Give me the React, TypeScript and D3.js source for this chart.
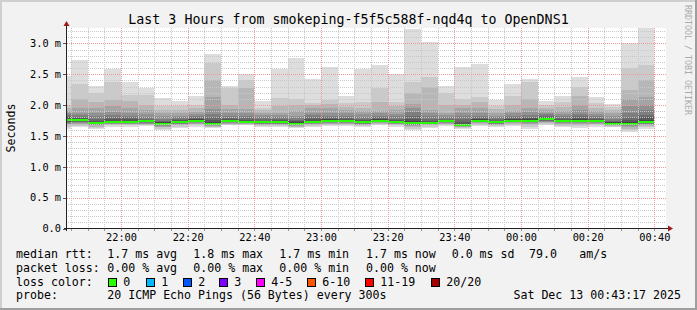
import React from "react";
import * as d3 from "d3";

const W = 697;
const H = 310;

const title = "Last 3 Hours from smokeping-f5f5c588f-nqd4q to OpenDNS1";
const yTickValues = [0, 0.5, 1.0, 1.5, 2.0, 2.5, 3.0];
const yTickLabels = ["0.0", "0.5 m", "1.0 m", "1.5 m", "2.0 m", "2.5 m", "3.0 m"];
const startTime = new Date(2025, 11, 12, 21, 43, 30);
const endTime = new Date(2025, 11, 13, 0, 43, 30);
const firstBarStart = new Date(2025, 11, 12, 21, 40, 0);
const stepMinutes = 5;
const yMax = 3.25;

// median rtt (ms) per 5-minute step
const medians = [
  1.76, 1.755, 1.715, 1.73, 1.73, 1.735, 1.7, 1.73, 1.75, 1.7,
  1.74, 1.725, 1.72, 1.72, 1.7, 1.73, 1.75, 1.74, 1.72, 1.75,
  1.72, 1.71, 1.71, 1.735, 1.675, 1.75, 1.72, 1.75, 1.75, 1.77,
  1.74, 1.75, 1.74, 1.7, 1.7, 1.73,
];

// 20 sorted ping rtts (ms) per 5-minute step
const pings = [
  [1.62, 1.65, 1.67, 1.69, 1.7, 1.71, 1.72, 1.73, 1.74, 1.75, 1.77, 1.78, 1.8, 1.82, 1.85, 1.88, 1.9, 1.95, 2.0, 2.47],
  [1.64, 1.66, 1.68, 1.7, 1.71, 1.72, 1.73, 1.74, 1.745, 1.75, 1.76, 1.77, 1.79, 1.81, 1.84, 1.88, 1.95, 2.1, 2.35, 2.73],
  [1.61, 1.63, 1.65, 1.67, 1.68, 1.69, 1.7, 1.705, 1.71, 1.715, 1.72, 1.73, 1.75, 1.78, 1.82, 1.87, 1.95, 2.05, 2.2, 2.31],
  [1.65, 1.67, 1.68, 1.69, 1.7, 1.71, 1.72, 1.725, 1.73, 1.73, 1.74, 1.75, 1.77, 1.8, 1.84, 1.89, 1.98, 2.08, 2.37, 2.59],
  [1.65, 1.67, 1.68, 1.69, 1.7, 1.71, 1.72, 1.725, 1.73, 1.73, 1.74, 1.75, 1.77, 1.8, 1.83, 1.87, 1.95, 2.07, 2.16, 2.37],
  [1.66, 1.67, 1.68, 1.69, 1.7, 1.71, 1.72, 1.73, 1.735, 1.735, 1.74, 1.75, 1.76, 1.78, 1.81, 1.85, 1.92, 2.0, 2.16, 2.27],
  [1.6, 1.62, 1.64, 1.65, 1.66, 1.67, 1.68, 1.69, 1.695, 1.7, 1.71, 1.72, 1.73, 1.75, 1.78, 1.82, 1.87, 1.92, 1.98, 2.12],
  [1.63, 1.65, 1.67, 1.68, 1.69, 1.7, 1.71, 1.72, 1.725, 1.73, 1.74, 1.75, 1.76, 1.78, 1.8, 1.83, 1.87, 1.92, 1.98, 2.065],
  [1.65, 1.67, 1.69, 1.7, 1.71, 1.72, 1.73, 1.74, 1.745, 1.75, 1.76, 1.77, 1.78, 1.8, 1.83, 1.86, 1.89, 1.95, 2.0, 2.15],
  [1.63, 1.64, 1.65, 1.66, 1.67, 1.68, 1.69, 1.695, 1.7, 1.7, 1.71, 1.73, 1.76, 1.8, 1.86, 1.94, 2.135, 2.4, 2.68, 2.826],
  [1.67, 1.68, 1.69, 1.7, 1.71, 1.72, 1.73, 1.735, 1.74, 1.74, 1.75, 1.76, 1.77, 1.79, 1.82, 1.87, 1.93, 2.0, 2.27, 2.31],
  [1.67, 1.68, 1.69, 1.7, 1.705, 1.71, 1.715, 1.72, 1.72, 1.725, 1.73, 1.74, 1.76, 1.79, 1.83, 1.88, 1.94, 2.27, 2.4, 2.51],
  [1.64, 1.66, 1.67, 1.68, 1.69, 1.7, 1.705, 1.71, 1.715, 1.72, 1.73, 1.74, 1.75, 1.77, 1.8, 1.84, 1.88, 1.92, 1.95, 2.07],
  [1.64, 1.66, 1.67, 1.68, 1.69, 1.7, 1.705, 1.71, 1.715, 1.72, 1.73, 1.74, 1.76, 1.78, 1.81, 1.84, 1.87, 1.98, 2.11, 2.58],
  [1.63, 1.64, 1.65, 1.66, 1.67, 1.68, 1.69, 1.695, 1.7, 1.7, 1.71, 1.72, 1.74, 1.76, 1.79, 1.83, 1.9, 2.0, 2.1, 2.77],
  [1.64, 1.66, 1.68, 1.69, 1.7, 1.71, 1.72, 1.725, 1.73, 1.73, 1.74, 1.75, 1.77, 1.8, 1.84, 1.88, 1.95, 2.0, 2.04, 2.42],
  [1.66, 1.68, 1.69, 1.7, 1.71, 1.72, 1.73, 1.74, 1.745, 1.75, 1.76, 1.77, 1.78, 1.8, 1.83, 1.88, 1.95, 2.02, 2.08, 2.62],
  [1.66, 1.68, 1.69, 1.7, 1.71, 1.72, 1.73, 1.735, 1.74, 1.74, 1.75, 1.76, 1.77, 1.79, 1.82, 1.87, 1.92, 1.97, 2.03, 2.145],
  [1.64, 1.66, 1.67, 1.68, 1.69, 1.7, 1.705, 1.71, 1.715, 1.72, 1.73, 1.74, 1.76, 1.78, 1.81, 1.85, 1.9, 1.96, 2.05, 2.58],
  [1.67, 1.69, 1.7, 1.71, 1.72, 1.73, 1.74, 1.745, 1.75, 1.75, 1.76, 1.77, 1.78, 1.8, 1.83, 1.87, 1.9, 2.05, 2.27, 2.65],
  [1.65, 1.67, 1.68, 1.69, 1.7, 1.705, 1.71, 1.715, 1.72, 1.72, 1.73, 1.74, 1.76, 1.78, 1.82, 1.86, 1.92, 1.98, 2.05, 2.5],
  [1.6, 1.62, 1.64, 1.66, 1.67, 1.68, 1.69, 1.7, 1.705, 1.71, 1.72, 1.74, 1.77, 1.82, 1.89, 1.95, 2.02, 2.2, 2.38, 3.24],
  [1.63, 1.65, 1.67, 1.68, 1.69, 1.7, 1.7, 1.705, 1.71, 1.71, 1.72, 1.73, 1.75, 1.78, 1.82, 1.87, 1.92, 2.3, 2.45, 3.02],
  [1.66, 1.68, 1.69, 1.7, 1.71, 1.72, 1.725, 1.73, 1.735, 1.735, 1.74, 1.75, 1.76, 1.78, 1.81, 1.84, 1.87, 2.0, 2.2, 2.31],
  [1.62, 1.63, 1.64, 1.65, 1.655, 1.66, 1.665, 1.67, 1.67, 1.675, 1.68, 1.7, 1.73, 1.77, 1.82, 1.88, 1.95, 2.0, 2.1, 2.61],
  [1.66, 1.68, 1.7, 1.71, 1.72, 1.73, 1.74, 1.745, 1.75, 1.75, 1.76, 1.77, 1.78, 1.8, 1.83, 1.87, 1.95, 2.05, 2.13, 2.665],
  [1.64, 1.66, 1.67, 1.68, 1.69, 1.7, 1.705, 1.71, 1.715, 1.72, 1.73, 1.74, 1.75, 1.77, 1.8, 1.83, 1.87, 1.93, 1.98, 2.08],
  [1.66, 1.68, 1.7, 1.71, 1.72, 1.73, 1.74, 1.745, 1.75, 1.75, 1.76, 1.77, 1.78, 1.8, 1.83, 1.87, 1.9, 2.0, 2.15, 2.35],
  [1.62, 1.65, 1.68, 1.7, 1.71, 1.72, 1.73, 1.74, 1.745, 1.75, 1.76, 1.77, 1.79, 1.81, 1.84, 1.89, 1.95, 2.1, 2.37, 2.43],
  [1.67, 1.69, 1.71, 1.72, 1.73, 1.74, 1.75, 1.76, 1.765, 1.77, 1.78, 1.79, 1.8, 1.82, 1.85, 1.88, 1.92, 1.95, 2.0, 2.07],
  [1.64, 1.66, 1.68, 1.7, 1.71, 1.72, 1.725, 1.73, 1.735, 1.74, 1.75, 1.76, 1.77, 1.79, 1.82, 1.86, 1.9, 1.97, 2.05, 2.145],
  [1.63, 1.66, 1.68, 1.7, 1.71, 1.72, 1.73, 1.74, 1.745, 1.75, 1.76, 1.77, 1.79, 1.82, 1.86, 1.92, 2.0, 2.15, 2.3, 2.45],
  [1.65, 1.67, 1.69, 1.7, 1.71, 1.72, 1.73, 1.735, 1.74, 1.74, 1.75, 1.76, 1.77, 1.79, 1.82, 1.86, 1.9, 1.96, 2.03, 2.135],
  [1.64, 1.65, 1.66, 1.67, 1.68, 1.685, 1.69, 1.695, 1.7, 1.7, 1.71, 1.72, 1.73, 1.75, 1.78, 1.82, 1.87, 1.92, 1.97, 2.02],
  [1.57, 1.6, 1.62, 1.64, 1.66, 1.67, 1.68, 1.69, 1.695, 1.7, 1.71, 1.73, 1.76, 1.8, 1.88, 1.98, 2.1, 2.24, 2.6, 3.0],
  [1.62, 1.64, 1.66, 1.68, 1.69, 1.7, 1.71, 1.72, 1.725, 1.73, 1.74, 1.76, 1.8, 1.84, 1.92, 2.0, 2.13, 2.4, 2.65, 3.25],
];

const lossLabels = ["0", "1", "2", "3", "4-5", "6-10", "11-19", "20/20"];
const lossColors = ["#26ff00", "#00b8ff", "#0059ff", "#7e00ff", "#ff00ff", "#ff5500", "#ff0000", "#a00000"];
const lossBoxX = [108, 146, 183, 219, 256, 307, 365, 431];

const rttRow = ["median rtt:", "1.7 ms avg", "1.8 ms max", "1.7 ms min", "1.7 ms now", "0.0 ms sd", "79.0", "am/s"];
const rttRowX = [16, 107.3, 193.3, 279.3, 366, 451.7, 529, 579.3];
const lossRow = ["packet loss:", "0.00 % avg", "0.00 % max", "0.00 % min", "0.00 % now"];
const lossRowX = [16, 107.3, 193.3, 279.3, 366];
const probeLabel = "probe:";
const probeText = "20 ICMP Echo Pings (56 Bytes) every 300s";
const dateText = "Sat Dec 13 00:43:17 2025";
const watermark = "RRDTOOL / TOBI OETIKER";

const MONO = "'DejaVu Sans Mono', monospace";

export default function App() {
  const left = 66;
  const right = 666;
  const x = d3.scaleTime().domain([startTime, endTime]).range([left, right]);
  const y = d3.scaleLinear().domain([0, yMax]).range([228.5, 28]);
  const plotTop = 28;
  const plotBottom = 228.5;

  const minorY = d3.range(0, 3.25, 0.1).map((v) => Math.round(v * 10) / 10);
  const minorX = x.ticks(d3.timeMinute.every(5) as any);
  const majorX = x.ticks(d3.timeMinute.every(20) as any);
  const fmt = d3.timeFormat("%H:%M");

  const grays = d3.range(1, 11).map((k) => {
    const c = Math.floor((190 / 10) * (10 - k)) + 50;
    return `rgb(${c},${c},${c})`;
  });

  const bars = pings.map((p, i) => {
    const t0 = d3.timeMinute.offset(firstBarStart, i * stepMinutes);
    const t1 = d3.timeMinute.offset(firstBarStart, (i + 1) * stepMinutes);
    const x0 = Math.max(left, Math.round(x(t0)));
    const x1 = Math.round(x(t1));
    return { p, x0, x1, med: medians[i] };
  });

  const isMajorY = (v: number) => Math.abs(v * 2 - Math.round(v * 2)) < 1e-6;
  const isMajorX = (t: Date) => t.getMinutes() % 20 === 0;

  return (
    <svg
      width={W}
      height={H}
      viewBox={`0 0 ${W} ${H}`}
      style={{ position: "absolute", left: 0, top: 0, display: "block" }}
      fontFamily={MONO}
    >
      <rect x={0} y={0} width={W} height={H} fill="#f2f2f2" />
      {/* 3D frame */}
      <rect x={0} y={0} width={W} height={2} fill="#cfcfcf" />
      <rect x={0} y={0} width={2} height={H} fill="#cfcfcf" />
      <rect x={0} y={H - 2} width={W} height={2} fill="#9e9e9e" />
      <rect x={W - 2} y={0} width={2} height={H} fill="#9e9e9e" />

      {/* canvas */}
      <rect x={left} y={plotTop} width={right - left} height={plotBottom - plotTop} fill="#ffffff" />

      {/* smoke */}
      <g shapeRendering="crispEdges">
        {bars.map((b, i) => (
          <g key={i}>
            {grays.map((g, k) => {
              const lo = b.p[k];
              const hi = b.p[19 - k];
              const yt = Math.round(y(hi));
              const yb = Math.round(y(lo));
              return (
                <rect key={k} x={b.x0} width={b.x1 - b.x0} y={yt} height={Math.max(0, yb - yt)} fill={g} />
              );
            })}
            <rect
              x={b.x0}
              width={b.x1 - b.x0}
              y={Math.round(y(b.med)) - 1}
              height={2}
              fill={lossColors[0]}
            />
          </g>
        ))}
      </g>

      {/* grid */}
      <g shapeRendering="crispEdges">
        {minorY.filter((v) => v > 0 && !isMajorY(v)).map((v, i) => (
          <line key={"hy" + i} x1={left} x2={right} y1={Math.round(y(v)) + 0.5} y2={Math.round(y(v)) + 0.5}
            stroke="#c8c8c8" strokeDasharray="1,1" />
        ))}
        {minorX.filter((t) => !isMajorX(t)).map((t, i) => (
          <line key={"vx" + i} y1={plotTop} y2={plotBottom} x1={Math.round(x(t)) + 0.5} x2={Math.round(x(t)) + 0.5}
            stroke="#c8c8c8" strokeDasharray="1,1" />
        ))}
        {yTickValues.filter((v) => v > 0).map((v, i) => (
          <line key={"my" + i} x1={left - 3} x2={right} y1={Math.round(y(v)) + 0.5} y2={Math.round(y(v)) + 0.5}
            stroke="#eb9a9a" strokeDasharray="1,1" />
        ))}
        {majorX.map((t, i) => (
          <line key={"mx" + i} y1={plotTop} y2={plotBottom + 3} x1={Math.round(x(t)) + 0.5} x2={Math.round(x(t)) + 0.5}
            stroke="#eb9a9a" strokeDasharray="1,1" />
        ))}
        {minorX.map((t, i) => (
          <line key={"tk" + i} y1={plotBottom} y2={plotBottom + 2} x1={Math.round(x(t)) + 0.5} x2={Math.round(x(t)) + 0.5}
            stroke="#999" />
        ))}
        {yTickValues.map((v, i) => (
          <line key={"ty" + i} x1={left - 3} x2={left} y1={Math.round(y(v)) + 0.5} y2={Math.round(y(v)) + 0.5}
            stroke="#555" />
        ))}
      </g>

      {/* axes */}
      <g shapeRendering="crispEdges">
        <line x1={left - 2} x2={right + 4} y1={228.5} y2={228.5} stroke="#222" />
        <line x1={left + 0.5} x2={left + 0.5} y1={231} y2={24} stroke="#222" />
      </g>
      <path d={`M${right + 2},225.5 L${right + 7},228.5 L${right + 2},231.5 Z`} fill="#9b1c1c" />
      <path d={`M${left - 2.5},26 L${left + 0.5},21 L${left + 3.5},26 Z`} fill="#9b1c1c" />

      {/* axis labels */}
      <g fontSize={10.3} fill="#000">
        {yTickValues.map((v, i) => (
          <text key={i} x={61} y={y(v) + 3.7} textAnchor="end">{yTickLabels[i]}</text>
        ))}
        {majorX.map((t, i) => (
          <text key={i} x={x(t) + 0.5} y={241} textAnchor="middle">{fmt(t)}</text>
        ))}
      </g>

      <text x={348.5} y={24} fontSize={13.3} textAnchor="middle" fill="#000">{title}</text>
      <text transform="translate(15,128) rotate(-90)" fontSize={11.6} textAnchor="middle" fill="#000">Seconds</text>
      <text transform="translate(684.5,5) rotate(90)" fontSize={8.3} fill="#aaaaaa">{watermark}</text>

      {/* legend */}
      <g fontSize={11.6} fill="#000">
        {rttRow.map((s, i) => (
          <text key={"r" + i} x={rttRowX[i]} y={258.3} style={{ whiteSpace: "pre" }}>{s}</text>
        ))}
        {lossRow.map((s, i) => (
          <text key={"l" + i} x={lossRowX[i]} y={271.8} style={{ whiteSpace: "pre" }}>{s}</text>
        ))}
        <text x={16} y={285.6}>loss color:</text>
        {lossLabels.map((s, i) => (
          <g key={"c" + i}>
            <rect x={lossBoxX[i] + 0.5} y={278.5} width={8} height={8} fill={lossColors[i]} stroke="#000" />
            <text x={lossBoxX[i] + 15.3} y={285.6}>{s}</text>
          </g>
        ))}
        <text x={16} y={299.3}>{probeLabel}</text>
        <text x={107.3} y={299.3}>{probeText}</text>
        <text x={681} y={299.3} textAnchor="end">{dateText}</text>
      </g>
    </svg>
  );
}
